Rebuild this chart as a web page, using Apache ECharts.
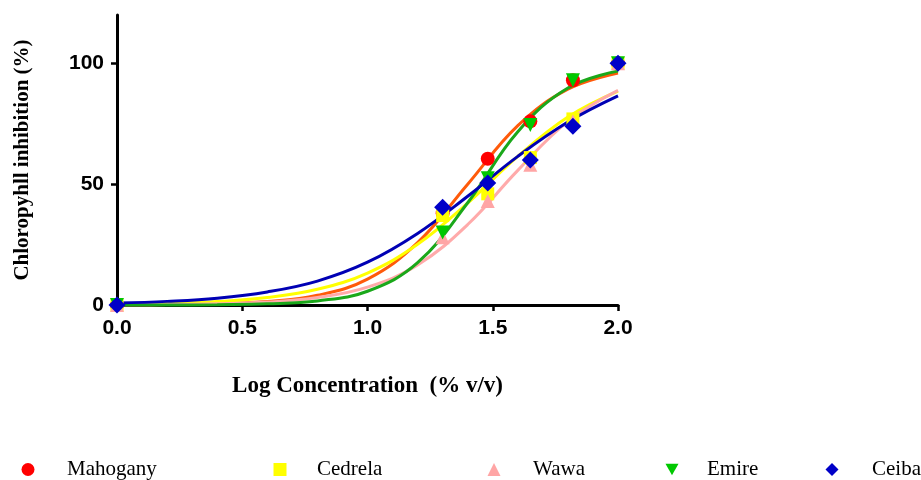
<!DOCTYPE html>
<html>
<head>
<meta charset="utf-8">
<script src="https://cdn.jsdelivr.net/npm/echarts@6/dist/echarts.min.js"></script>
<style>
  html, body { margin: 0; padding: 0; background: #fff; }
  #chart { width: 921px; height: 480px; }
</style>
</head>
<body>
<div id="chart"></div>
<script>
// measured points: log concentration vs chlorophyll inhibition (%)
var logConc = [0, 1.30, 1.48, 1.65, 1.82, 2.0];
var mahogany = [0, 38, 60.5, 76, 93, 100];
var cedrela = [0, 37, 46, 61, 77, 100];
var wawa = [0, 28, 43, 58, 76, 100];
var emire = [0, 30, 52.5, 74.5, 93, 100];
var ceiba = [0, 40.5, 50.5, 60, 74, 100];

// fitted curves, every 0.2 log units
var curveX = [0, 0.2, 0.4, 0.6, 0.8, 1.0, 1.2, 1.4, 1.6, 1.8, 2.0];
var mahoganyFit = [0.1, 0.2, 0.5, 1.4, 4, 10.7, 25.8, 50, 74.2, 89.3, 96];
var cedrelaFit = [0.3, 0.7, 1.4, 3.1, 6.5, 13.2, 25.1, 42.2, 61.5, 77.8, 88.5];
var wawaFit = [0.1, 0.2, 0.5, 1.2, 3.1, 7.4, 16.6, 33.3, 55.7, 76, 88.8];
var emireFit = [0, 0, 0.15, 0.5, 1.7, 5.7, 17.5, 42.3, 71.7, 89.8, 96.8];
var ceibaFit = [0.8, 1.5, 2.8, 5.4, 9.9, 17.7, 29.6, 45, 61.5, 75.7, 86.5];

var xTicks = [0, 0.5, 1.0, 1.5, 2.0];
var yTicks = [0, 50, 100];

function pairs(xs, ys) {
	var out = [];
	for (var i = 0; i < xs.length; i++) {
		out.push([xs[i], ys[i]]);
	}
	return out;
}

var downTri = 'path://M0,0 L20,0 L10,18 Z';

var groups = [
	{name: 'Mahogany', pts: mahogany, fit: mahoganyFit, symbol: 'circle', size: 14, color: '#ff0000', line: '#ff5a0a', legendX: 21.5, pad: 27.5},
	{name: 'Cedrela', pts: cedrela, fit: cedrelaFit, symbol: 'rect', size: 13, color: '#ffff00', line: '#ffff00', legendX: 273.5, pad: 25.5},
	{name: 'Wawa', pts: wawa, fit: wawaFit, symbol: 'triangle', size: 14, color: '#ffa5a5', line: '#ffaaaa', legendX: 487.5, pad: 27.5},
	{name: 'Emire', pts: emire, fit: emireFit, symbol: downTri, size: 14, color: '#00c800', line: '#1aa81a', legendX: 665.5, pad: 23.5},
	{name: 'Ceiba', pts: ceiba, fit: ceibaFit, symbol: 'diamond', size: 17, color: '#0000c8', line: '#0000b4', legendX: 825.5, pad: 28.5}
];

var series = [];
var legends = [];
groups.forEach(function(g) {
	series.push({
		name: g.name + ' fit',
		type: 'line',
		smooth: 0.4,
		showSymbol: false,
		symbol: 'none',
		clip: false,
		lineStyle: {color: g.line, width: 3},
		data: pairs(curveX, g.fit),
		z: 2
	});
});
groups.forEach(function(g) {
	series.push({
		name: g.name,
		type: 'scatter',
		symbol: g.symbol,
		symbolSize: g.size,
		clip: false,
		itemStyle: {color: g.color, opacity: 1},
		data: pairs(logConc, g.pts),
		z: 3
	});
	legends.push({
		data: [g.name],
		left: g.legendX,
		top: 459,
		padding: 0,
		itemWidth: 13,
		itemHeight: 13,
		selectedMode: false,
		textStyle: {
			fontFamily: 'Liberation Serif',
			fontSize: 21,
			color: '#000',
			padding: [0, 0, 0, g.pad]
		}
	});
});

var myChart = echarts.init(document.getElementById('chart'));
var option = {
	backgroundColor: '#fff',
	animation: false,
	grid: {left: 117, right: 303, top: 15, bottom: 175, containLabel: false},
	legend: legends,
	xAxis: {
		type: 'value',
		min: 0,
		max: 2,
		interval: 0.5,
		name: 'Log Concentration  (% v/v)',
		nameLocation: 'middle',
		nameGap: 70,
		nameTextStyle: {fontFamily: 'Liberation Serif', fontWeight: 'bold', fontSize: 23, color: '#000'},
		axisLine: {lineStyle: {color: '#000', width: 3}},
		axisTick: {show: true, length: 6, lineStyle: {color: '#000', width: 2.5}, customValues: xTicks},
		axisLabel: {
			margin: 13,
			fontFamily: 'Liberation Sans',
			fontWeight: 'bold',
			fontSize: 21,
			color: '#000',
			customValues: xTicks,
			formatter: function(v) { return v.toFixed(1); }
		},
		splitLine: {show: false}
	},
	yAxis: {
		type: 'value',
		min: 0,
		max: 120,
		interval: 50,
		name: 'Chloropyhll inhibition (%)',
		nameLocation: 'middle',
		nameGap: 84,
		nameTextStyle: {fontFamily: 'Liberation Serif', fontWeight: 'bold', fontSize: 21, color: '#000'},
		axisLine: {show: true, lineStyle: {color: '#000', width: 3}},
		axisTick: {show: true, length: 6, lineStyle: {color: '#000', width: 2.5}, customValues: yTicks},
		axisLabel: {
			margin: 13,
			fontFamily: 'Liberation Sans',
			fontWeight: 'bold',
			fontSize: 21,
			color: '#000',
			customValues: yTicks
		},
		splitLine: {show: false}
	},
	series: series
};
myChart.setOption(option);
</script>
</body>
</html>
